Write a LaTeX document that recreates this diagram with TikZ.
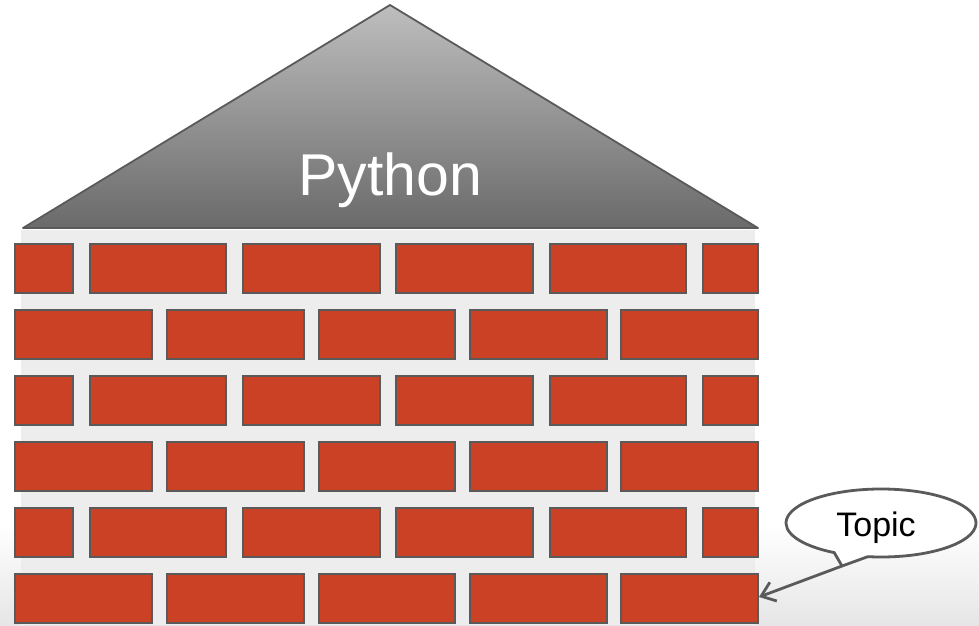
\documentclass[tikz,border=0pt]{standalone}
\usepackage{fontspec}
\setmainfont{Liberation Sans}
\usetikzlibrary{arrows.meta}
\definecolor{brickred}{HTML}{CB4125}
\definecolor{mortar}{HTML}{EDEDED}
\definecolor{edgegray}{HTML}{5A5A5A}
\definecolor{rooftop}{HTML}{BEBEBE}
\definecolor{roofbottom}{HTML}{6A6A6A}
\definecolor{floorgray}{HTML}{E6E6E6}
\tikzset{
  brick/.style={fill=brickred, draw=edgegray, line width=2.2pt},
  roofedge/.style={draw=edgegray, line width=1.8pt, line join=round},
  bubble/.style={fill=white, draw=edgegray, line width=2.8pt, line join=round},
  pointer/.style={draw=edgegray, line width=2.8pt,
    -{Straight Barb[length=13pt, width=20pt, line width=2.8pt]}},
}
\begin{document}
\begin{tikzpicture}[x=1pt, y=1pt]
  \useasboundingbox (0,0) rectangle (979,625);
  % page background: white fading to a light grey floor
  \fill[white] (0,0) rectangle (979,625);
  \shade[top color=white, bottom color=floorgray] (0,0) rectangle (979,100);

  % wall body behind the bricks
  \fill[mortar] (21,0) rectangle (755,395);

  % roof
  \shade[top color=rooftop, bottom color=roofbottom]
    (390,620) -- (758,397) -- (23,397) -- cycle;
  \draw[roofedge] (390,620) -- (758,397) -- (23,397) -- cycle;
  \node[anchor=base, text=white, font=\fontsize{59}{59}\selectfont, inner sep=0pt]
    (python) at (390,430) {Python};

  % brick courses (rows alternate between two bond patterns)
  \foreach \k in {0,2,4} {
    \foreach \xa/\xb in {15/73, 90/226, 243/380, 396/533, 550/686, 703/758} {
      \draw[brick] (\xa,{332-66*\k}) rectangle (\xb,{381-66*\k});
    }
  }
  \foreach \k in {1,3,5} {
    \foreach \xa/\xb in {15/152, 167/304, 319/455, 470/607, 621/758} {
      \draw[brick] (\xa,{332-66*\k}) rectangle (\xb,{381-66*\k});
    }
  }

  % speech bubble with its tail
  \coordinate (bubblec) at (881,102);
  \coordinate (tailtip) at (842,59);
  \coordinate (target) at (759,28);
  \draw[bubble] (bubblec) ++(262:95 and 34)
    arc[start angle=262, end angle=600.5, x radius=95, y radius=34]
    -- (tailtip) -- cycle;
  \node[anchor=base, font=\fontsize{34}{34}\selectfont, inner sep=0pt]
    (topic) at (876,89) {Topic};
  \draw[pointer] (tailtip) -- (target);
\end{tikzpicture}
\end{document}
